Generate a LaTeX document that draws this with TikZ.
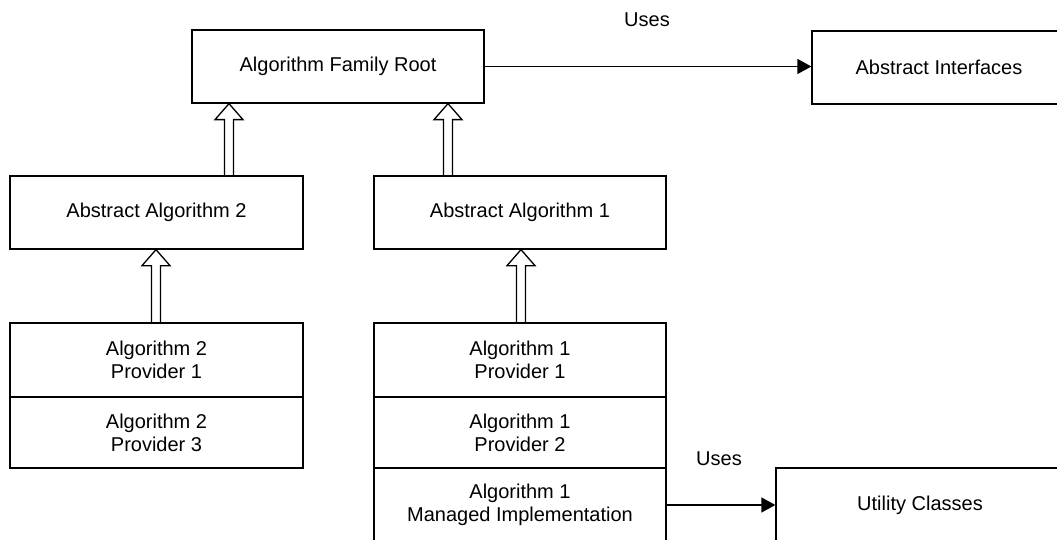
\documentclass[tikz,border=0pt]{standalone}
\usepackage{fontspec}
\setmainfont{Liberation Sans}
\usetikzlibrary{arrows.meta,calc}
\tikzset{
  box/.style={draw, line width=1.3pt, minimum height=73pt, align=center,
    font=\fontsize{20}{23}\selectfont, inner sep=0pt},
  uses/.style={draw, line width=1.3pt, -{Triangle[length=14pt,width=15pt]}},
  lbl/.style={font=\fontsize{20}{23}\selectfont, inner sep=0pt},
  hollow/.style={draw, line width=1.3pt, line join=miter}
}
% #1 lower node, #2 upper node, #3 x position (pt)
\newcommand\inherit[3]{%
  \draw[hollow] let \p1=(#1.north), \p2=(#2.south) in
    (#3pt-4.5pt,\y1) -- (#3pt-4.5pt,\y2-16pt) -- (#3pt-14pt,\y2-16pt) --
    (#3pt,\y2) -- (#3pt+14pt,\y2-16pt) -- (#3pt+4.5pt,\y2-16pt) -- (#3pt+4.5pt,\y1);}
\begin{document}
\begin{tikzpicture}[x=1pt,y=-1pt]
\useasboundingbox (0,0) rectangle (1057,540);
\clip (0,0) rectangle (1057,540);
\fill[white] (0,0) rectangle (1057,540);

\node[box, minimum width=292pt] (root) at (338,66.5) {Algorithm Family Root};
\node[box, minimum width=254pt] (absint) at (939,67.5) {Abstract Interfaces};

\node[box, minimum width=293pt] (aa2) at (156.5,212.5) {Abstract Algorithm 2};
\node[box, minimum width=292pt] (aa1) at (520,212.5) {Abstract Algorithm 1};

\node[box, minimum width=293pt, minimum height=74pt] (a2p1) at (156.5,360) {Algorithm 2\\Provider 1};
\node[box, minimum width=293pt, minimum height=71pt] (a2p3) at (156.5,432.5) {Algorithm 2\\Provider 3};

\node[box, minimum width=292pt, minimum height=74pt] (a1p1) at (520,360) {Algorithm 1\\Provider 1};
\node[box, minimum width=292pt, minimum height=71pt] (a1p2) at (520,432.5) {Algorithm 1\\Provider 2};
\node[box, minimum width=292pt, minimum height=74pt] (a1m) at (520,505) {Algorithm 1\\Managed Implementation};

\node[box, minimum width=288pt, minimum height=74pt] (util) at (920,505) {Utility Classes};

\node[lbl] (uses1) at (647,20) {Uses};
\node[lbl] (uses2) at (719,459) {Uses};

\draw[uses] (root.east) -- (root.east -| absint.west);
\draw[uses] (a1m.east) -- (util.west);

\inherit{aa2}{root}{229}
\inherit{aa1}{root}{448}
\inherit{a2p1}{aa2}{156}
\inherit{a1p1}{aa1}{521}
\end{tikzpicture}
\end{document}
